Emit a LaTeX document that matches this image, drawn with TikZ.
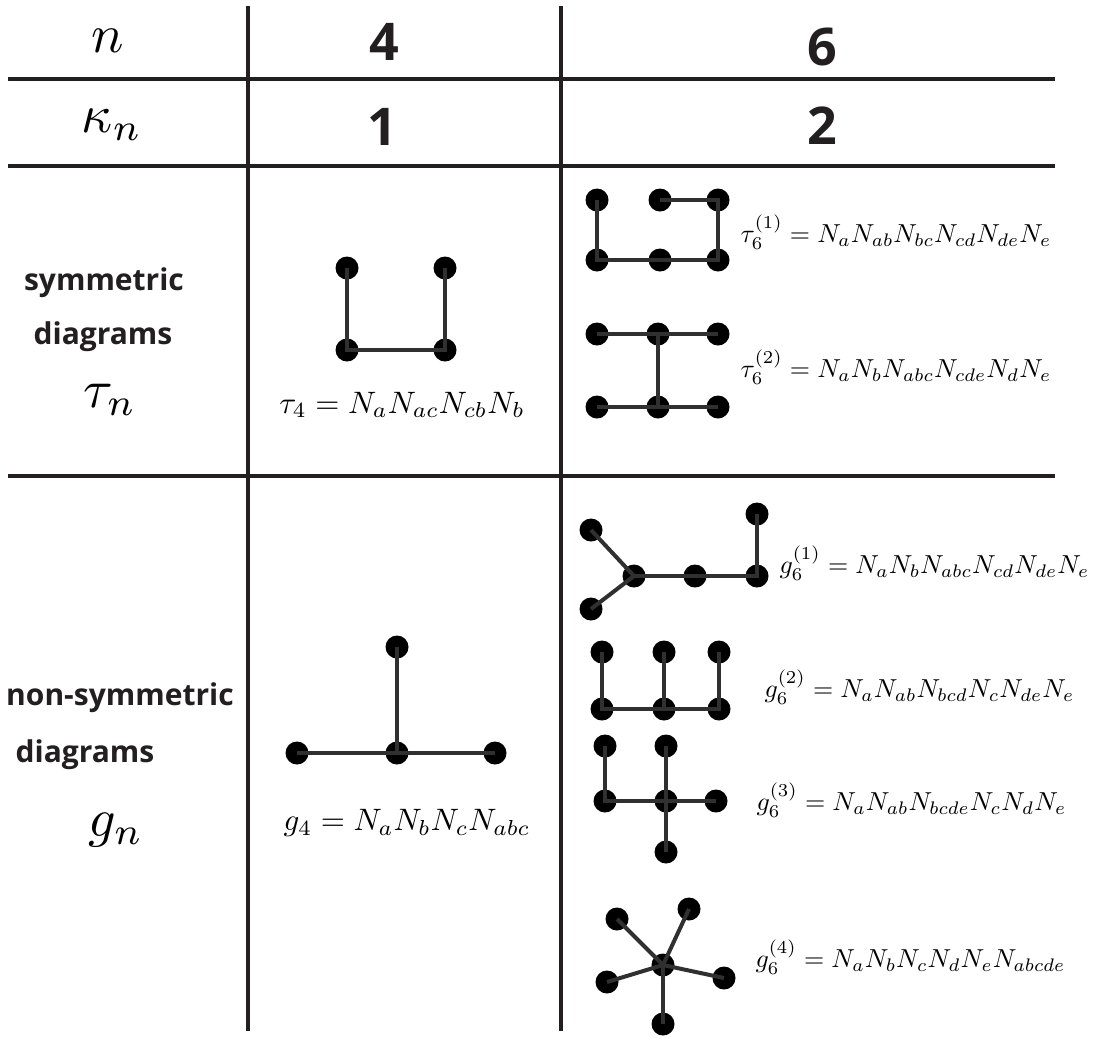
\documentclass[tikz,border=0pt]{standalone}
\usepackage{fontspec}
\setsansfont{Open Sans}
\usepackage{amsmath}
\definecolor{ink}{HTML}{231F20}
\definecolor{bondgray}{HTML}{303030}
\tikzset{
  hrule/.style={line width=4.5pt, draw=ink},
  vrule/.style={line width=3.3pt, draw=ink},
  vtx/.style={circle, fill=black, minimum size=23pt, inner sep=0pt},
  bond/.style={line width=4pt, draw=bondgray},
  headnum/.style={font=\sffamily\bfseries\fontsize{52}{60}\selectfont, text=ink, inner sep=0pt},
  rowlabel/.style={font=\sffamily\bfseries\fontsize{30}{36}\selectfont, text=ink, inner sep=0pt},
  bigmath/.style={scale=5.4, inner sep=0pt},
  formula/.style={scale=2.6, inner sep=0pt, anchor=west},
  formulaL/.style={scale=3.1, inner sep=0pt},
}
\begin{document}
\begin{tikzpicture}[x=1pt, y=-1pt]
\useasboundingbox[fill=white] (0,0) rectangle (1094,1037);

% table rules
\draw[vrule] (248,6) -- (248,1031);
\draw[vrule] (561,6) -- (561,1031);
\draw[hrule] (8,79) -- (1055,79);
\draw[hrule] (8,166) -- (1055,166);
\draw[hrule] (8,476) -- (1055,476);

% header rows
\node[bigmath] (hn) at (108,41) {$n$};
\node[headnum] (h4) at (384,42) {4};
\node[headnum] (h6) at (822,47) {6};
\node[bigmath] (hk) at (112,125) {$\kappa_n$};
\node[headnum] (h1) at (382,127) {1};
\node[headnum] (h2) at (822,126) {2};

% row labels
\node[rowlabel] (sym1) at (104,283) {symmetric};
\node[rowlabel] (sym2) at (103,337) {diagrams};
\node[bigmath] (symt) at (110,400) {$\tau_n$};
\node[rowlabel] (non1) at (120,698) {non-symmetric};
\node[rowlabel] (non2) at (85,755) {diagrams};
\node[bigmath] (nong) at (116,830) {$g_n$};

% tau_4
\node[vtx] (ta) at (347,268) {};
\node[vtx] (tb) at (445,268) {};
\node[vtx] (tc) at (347,350) {};
\node[vtx] (td) at (445,350) {};
\draw[bond] (ta.center) -- (tc.center) -- (td.center) -- (tb.center);
\node[formulaL] (tf) at (402,405) {$\tau_4 = N_aN_{ac}N_{cb}N_b$};

% g_4
\node[vtx] (ga) at (397,647) {};
\node[vtx] (gb) at (297,753) {};
\node[vtx] (gc) at (397,753) {};
\node[vtx] (gd) at (495,753) {};
\draw[bond] (ga.center) -- (gc.center);
\draw[bond] (gb.center) -- (gc.center) -- (gd.center);
\node[formulaL] (gf) at (407,823) {$g_4 = N_aN_bN_cN_{abc}$};

% tau_6^(1)
\node[vtx] (p1) at (597,200) {};
\node[vtx] (p2) at (660,200) {};
\node[vtx] (p3) at (718,200) {};
\node[vtx] (p4) at (597,260) {};
\node[vtx] (p5) at (660,260) {};
\node[vtx] (p6) at (718,260) {};
\draw[bond] (p1.center) -- (p4.center) -- (p5.center) -- (p6.center) -- (p3.center) -- (p2.center);
\node[formula] (pf) at (740,232) {$\tau_6^{(1)} = N_aN_{ab}N_{bc}N_{cd}N_{de}N_e$};

% tau_6^(2)
\node[vtx] (q1) at (597,334) {};
\node[vtx] (q2) at (658,334) {};
\node[vtx] (q3) at (718,334) {};
\node[vtx] (q4) at (597,407) {};
\node[vtx] (q5) at (658,407) {};
\node[vtx] (q6) at (718,407) {};
\draw[bond] (q1.center) -- (q2.center) -- (q3.center);
\draw[bond] (q4.center) -- (q5.center) -- (q6.center);
\draw[bond] (q2.center) -- (q5.center);
\node[formula] (qf) at (740,367) {$\tau_6^{(2)} = N_aN_bN_{abc}N_{cde}N_dN_e$};

% g_6^(1)
\node[vtx] (r1) at (591,530) {};
\node[vtx] (r2) at (591,609) {};
\node[vtx] (r3) at (634,576) {};
\node[vtx] (r4) at (695,576) {};
\node[vtx] (r5) at (757,576) {};
\node[vtx] (r6) at (757,514) {};
\draw[bond] (r1.center) -- (r3.center) -- (r2.center);
\draw[bond] (r3.center) -- (r4.center) -- (r5.center) -- (r6.center);
\node[formula] (rf) at (779,563) {$g_6^{(1)} = N_aN_bN_{abc}N_{cd}N_{de}N_e$};

% g_6^(2)
\node[vtx] (s1) at (602,652) {};
\node[vtx] (s2) at (664,652) {};
\node[vtx] (s3) at (719,652) {};
\node[vtx] (s4) at (602,709) {};
\node[vtx] (s5) at (664,709) {};
\node[vtx] (s6) at (719,709) {};
\draw[bond] (s1.center) -- (s4.center) -- (s5.center) -- (s6.center) -- (s3.center);
\draw[bond] (s2.center) -- (s5.center);
\node[formula] (sf) at (764,687) {$g_6^{(2)} = N_aN_{ab}N_{bcd}N_cN_{de}N_e$};

% g_6^(3)
\node[vtx] (u1) at (605,746) {};
\node[vtx] (u2) at (666,746) {};
\node[vtx] (u3) at (605,801) {};
\node[vtx] (u4) at (666,801) {};
\node[vtx] (u5) at (716,801) {};
\node[vtx] (u6) at (666,852) {};
\draw[bond] (u1.center) -- (u3.center) -- (u4.center) -- (u5.center);
\draw[bond] (u2.center) -- (u4.center) -- (u6.center);
\node[formula] (uf) at (756,800) {$g_6^{(3)} = N_aN_{ab}N_{bcde}N_cN_dN_e$};

% g_6^(4)
\node[vtx] (w0) at (663,965) {};
\node[vtx] (w1) at (617,919) {};
\node[vtx] (w2) at (689,909) {};
\node[vtx] (w3) at (607,982) {};
\node[vtx] (w4) at (724,978) {};
\node[vtx] (w5) at (663,1024) {};
\foreach \t in {w1,w2,w3,w4,w5} \draw[bond] (w0.center) -- (\t.center);
\node[formula] (wf) at (755,957) {$g_6^{(4)} = N_aN_bN_cN_dN_eN_{abcde}$};
\end{tikzpicture}
\end{document}
